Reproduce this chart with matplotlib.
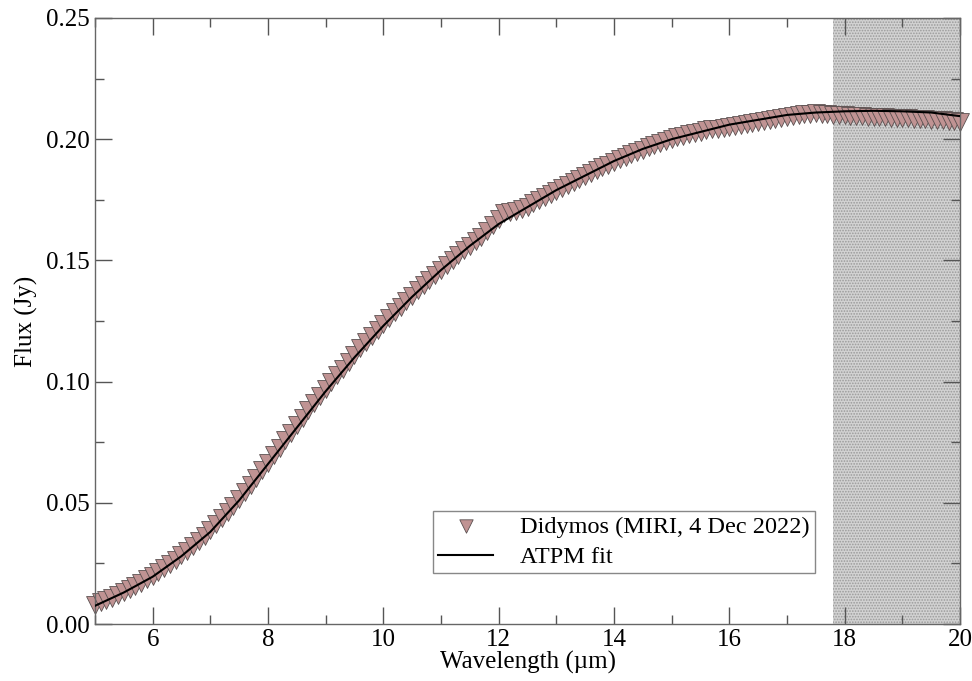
import numpy as np
import matplotlib
matplotlib.use('Agg')
import matplotlib.pyplot as plt
# Necessary imports

plt.rcParams['font.family'] = ['Liberation Serif', 'DejaVu Serif']
plt.rcParams['hatch.linewidth'] = 0.8

# Didymos MIRI spectrum
wave = [5.0, 5.1, 5.2, 5.3, 5.4, 5.5, 5.6, 5.7, 5.8, 5.9,
        6.0, 6.1, 6.2, 6.3, 6.4, 6.5, 6.6, 6.7, 6.8, 6.9,
        7.0, 7.1, 7.2, 7.3, 7.4, 7.5, 7.6, 7.7, 7.8, 7.9,
        8.0, 8.1, 8.2, 8.3, 8.4, 8.5, 8.6, 8.7, 8.8, 8.9,
        9.0, 9.1, 9.2, 9.3, 9.4, 9.5, 9.6, 9.7, 9.8, 9.9,
        10.0, 10.1, 10.2, 10.3, 10.4, 10.5, 10.6, 10.7, 10.8, 10.9,
        11.0, 11.1, 11.2, 11.3, 11.4, 11.5, 11.6, 11.7, 11.8, 11.9,
        12.0, 12.1, 12.2, 12.3, 12.4, 12.5, 12.6, 12.7, 12.8, 12.9,
        13.0, 13.1, 13.2, 13.3, 13.4, 13.5, 13.6, 13.7, 13.8, 13.9,
        14.0, 14.1, 14.2, 14.3, 14.4, 14.5, 14.6, 14.7, 14.8, 14.9,
        15.0, 15.1, 15.2, 15.3, 15.4, 15.5, 15.6, 15.7, 15.8, 15.9,
        16.0, 16.1, 16.2, 16.3, 16.4, 16.5, 16.6, 16.7, 16.8, 16.9,
        17.0, 17.1, 17.2, 17.3, 17.4, 17.5, 17.6, 17.7, 17.8, 17.9,
        18.0, 18.1, 18.2, 18.3, 18.4, 18.5, 18.6, 18.7, 18.8, 18.9,
        19.0, 19.1, 19.2, 19.3, 19.4, 19.5, 19.6, 19.7, 19.8, 19.9,
        20.0]
flux = [.0080, .0089, .0099, .0109, .0120, .0132, .0144, .0157, .0170, .0184,
        .0198, .0213, .0229, .0246, .0264, .0283, .0302, .0322, .0343, .0364,
        .0387, .0411, .0436, .0462, .0488, .0516, .0545, .0574, .0604, .0634,
        .0665, .0696, .0727, .0758, .0789, .0820, .0851, .0881, .0911, .0940,
        .0969, .0998, .1026, .1054, .1082, .1110, .1137, .1163, .1189, .1214,
        .1238, .1262, .1286, .1309, .1332, .1355, .1377, .1399, .1420, .1441,
        .1462, .1482, .1502, .1522, .1541, .1560, .1579, .1598, .1620, .1645,
        .1672, .1695, .1700, .1702, .1710, .1722, .1735, .1748, .1761, .1774,
        .1787, .1800, .1812, .1824, .1836, .1848, .1860, .1872, .1884, .1895,
        .1906, .1917, .1927, .1937, .1947, .1957, .1966, .1975, .1984, .1992,
        .2000, .2007, .2014, .2020, .2026, .2031, .2036, .2040, .2044, .2048,
        .2052, .2056, .2060, .2064, .2068, .2072, .2076, .2080, .2084, .2088,
        .2092, .2096, .2100, .2103, .2105, .2106, .2105, .2103, .2101, .2099,
        .2098, .2097, .2096, .2095, .2093, .2092, .2091, .2090, .2089, .2088,
        .2087, .2086, .2085, .2083, .2082, .2081, .2079, .2078, .2076, .2074,
        .2072]

# ATPM model fit
fit_wave = [5.0, 5.5, 6.0, 6.5, 7.0, 7.5, 8.0, 8.5, 9.0, 9.5, 10.0,
            10.5, 11.0, 11.5, 12.0, 12.5, 13.0, 13.5, 14.0, 14.5, 15.0,
            15.5, 16.0, 16.5, 17.0, 17.5, 18.0, 18.5, 19.0, 19.5, 20.0]
fit_flux = [.0075, .0130, .0195, .0280, .0380, .0510, .0660, .0810, .0960,
            .1100, .1230, .1350, .1460, .1560, .1650, .1720, .1790, .1850,
            .1910, .1960, .2000, .2030, .2060, .2080, .2100, .2110, .2115,
            .2117, .2115, .2110, .2095]

# shaded (excluded) wavelength range
shade_lo, shade_hi = 17.8, 20.0

fig = plt.figure(figsize=(9.72, 6.81), dpi=100)
ax = fig.add_axes([0.0977, 0.0837, 0.89, 0.8899])

ax.axvspan(shade_lo, shade_hi, facecolor='#d2d2d2', edgecolor='#9a9a9a',
           hatch='......', linewidth=0, zorder=0)

ax.scatter(wave, flux, marker='v', s=165, facecolor='#c09393',
           edgecolor='#5a5050', linewidth=0.6, zorder=2, clip_on=False,
           label='Didymos (MIRI, 4 Dec 2022)')
ax.plot(fit_wave, fit_flux, color='black', lw=1.5, zorder=3, label='ATPM fit')

ax.set_xlim(5, 20)
ax.set_ylim(0, 0.25)
ax.set_xticks([6, 8, 10, 12, 14, 16, 18, 20])
ax.set_xticks(np.arange(5, 20.5, 1), minor=True)
ax.set_yticks([0, 0.05, 0.10, 0.15, 0.20, 0.25])
ax.set_yticks(np.arange(0, 0.26, 0.025), minor=True)
ax.set_yticklabels(['0.00', '0.05', '0.10', '0.15', '0.20', '0.25'])
ax.tick_params(which='both', direction='in', top=True, right=True,
               labelsize=18, color='#555555', width=1)
ax.tick_params(which='major', length=12)
ax.tick_params(which='minor', length=6.5)
for sp in ax.spines.values():
    sp.set_color('#666666')
    sp.set_linewidth(1)

ax.set_xlabel('Wavelength (µm)', fontsize=18, labelpad=0)
ax.set_ylabel('Flux (Jy)', fontsize=18, labelpad=6)

leg = ax.legend(loc='lower right', bbox_to_anchor=(0.832, 0.084),
                borderaxespad=0, fontsize=17.5, fancybox=False,
                edgecolor='#888888', framealpha=1, handlelength=2.3,
                handletextpad=1.1, borderpad=0.2, labelspacing=0.35,
                markerscale=0.75)
leg.get_frame().set_linewidth(1)

plt.savefig('out.png', dpi=100)
